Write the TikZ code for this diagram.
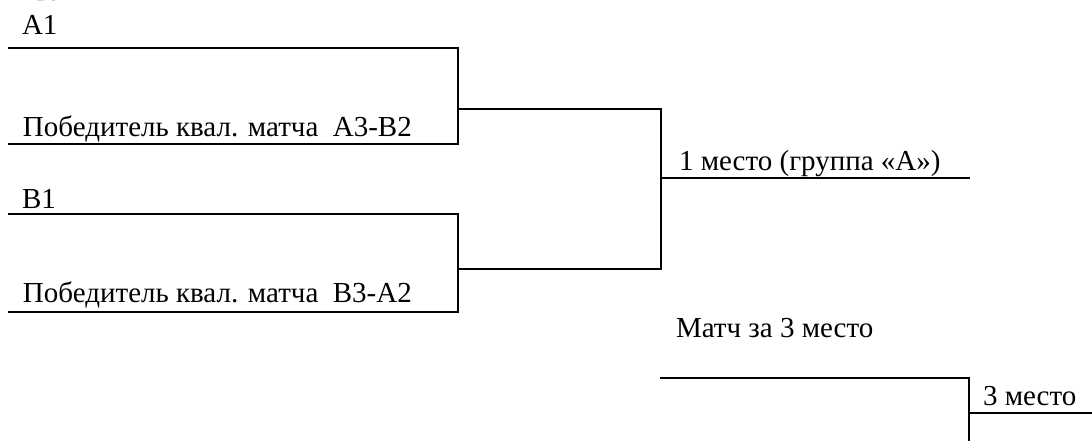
\documentclass[tikz,border=0pt]{standalone}
\usepackage{fontspec}
\setmainfont{Liberation Serif}
\tikzset{
  lbl/.style={anchor=base west, inner sep=0pt, outer sep=0pt, font=\fontsize{29}{33}\selectfont},
  br/.style={line width=2.8pt, line cap=rect}
}
\begin{document}
\begin{tikzpicture}[x=1pt, y=-1pt]
\useasboundingbox (0,0) rectangle (1092,441);
\begin{scope}
\clip (0,0) rectangle (1092,441);
% top cut title
\node[lbl] (title) at (22,-5) {Группа «А»};
% texts
\node[lbl] (tA1) at (22,35) {A1};
\node[lbl] (tA3) at (23,137) {Победитель квал. матча~~A3-B2};
\node[lbl] (tB1) at (22,208) {B1};
\node[lbl] (tB3) at (23,302) {Победитель квал. матча~~B3-A2};
\node[lbl] (tW) at (679,170) {1 место (группа «А»)};
\node[lbl] (tM) at (676,337) {Матч за 3 место};
\node[lbl] (t3) at (983,405) {3 место};
% coordinates
\coordinate (a1L) at (9,48);
\coordinate (a1R) at (458,48);
\coordinate (a2L) at (9,144);
\coordinate (a2R) at (458,144);
\coordinate (aM) at (458,109);
\coordinate (b1L) at (9,214);
\coordinate (b1R) at (458,214);
\coordinate (b2L) at (9,312);
\coordinate (b2R) at (458,312);
\coordinate (bM) at (458,269);
\coordinate (fT) at (661,109);
\coordinate (fB) at (661,269);
\coordinate (fM) at (661,178);
\coordinate (wR) at (969,178);
\coordinate (tL) at (661,378);
\coordinate (tR) at (969,378);
\coordinate (tBot) at (969,445);
\coordinate (tM3) at (969,413);
\coordinate (tOut) at (1095,413);
% brackets
\draw[br] (a1L) -- (a1R) -- (a2R) -- (a2L);
\draw[br] (b1L) -- (b1R) -- (b2R) -- (b2L);
\draw[br] (aM) -- (fT) -- (fB) -- (bM);
\draw[br] (fM) -- (wR);
\draw[br] (tL) -- (tR) -- (tBot);
\draw[br] (tM3) -- (tOut);
\end{scope}
\end{tikzpicture}
\end{document}
